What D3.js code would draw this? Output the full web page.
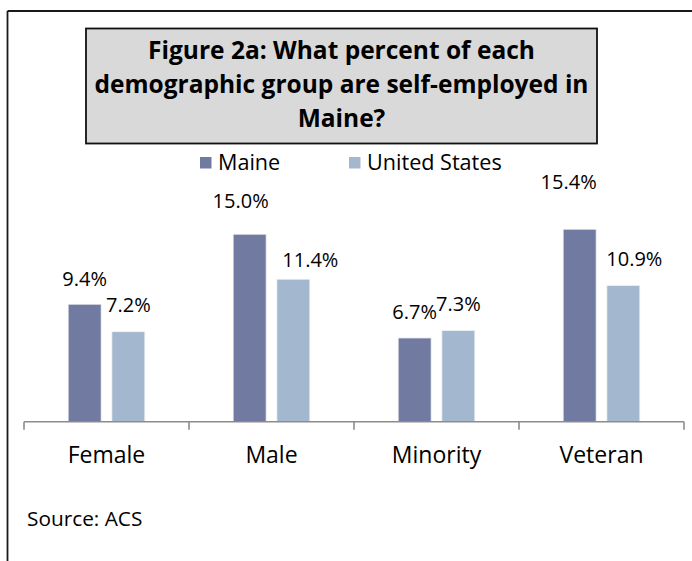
<!DOCTYPE html>
<html>
<head>
<meta charset="utf-8">
<script src="https://cdn.jsdelivr.net/npm/d3@7"></script>
<style>
  html, body { margin: 0; padding: 0; background: #fff; }
  svg { display: block; }
  text { font-family: "Open Sans", Lato, sans-serif; fill: #000; }
</style>
</head>
<body>
<svg id="chart" width="692" height="561"></svg>
<script>
// ---- data ----
const categories = ["Female", "Male", "Minority", "Veteran"];
const seriesNames = ["Maine", "United States"];
const maineValues = [9.4, 15.0, 6.7, 15.4];
const usValues = [7.2, 11.4, 7.3, 10.9];
const valueLabels = [["9.4%", "7.2%"], ["15.0%", "11.4%"], ["6.7%", "7.3%"], ["15.4%", "10.9%"]];
const titleLines = ["Figure 2a: What percent of each", "demographic group are self-employed in", "Maine?"];
const sourceText = "Source: ACS";

// label nudges (manual placements in the original), [dx, dy] per category/series
const labelNudge = [[[0, 1], [0, -1]], [[-9, -7], [17, 7]], [[0, 0], [0, 0]], [[-11, -21], [11, 0]]];

const colors = ["#717ba1", "#a3b8ce"];

const svg = d3.select("#chart");

// outer frame (top and left lines only)
svg.append("line").attr("x1", 7.5).attr("y1", 11).attr("x2", 692).attr("y2", 11)
  .attr("stroke", "#1a1a1a").attr("stroke-width", 1.8);
svg.append("line").attr("x1", 7.5).attr("y1", 11).attr("x2", 7.5).attr("y2", 561)
  .attr("stroke", "#1a1a1a").attr("stroke-width", 1.8);

// title box
svg.append("rect").attr("x", 86).attr("y", 28.5).attr("width", 511).attr("height", 115)
  .attr("fill", "#d9d9d9").attr("stroke", "#111").attr("stroke-width", 1.8);
svg.append("g").selectAll("text").data(titleLines).join("text")
  .attr("x", 341.5)
  .attr("y", (d, i) => 59 + i * 34)
  .attr("text-anchor", "middle")
  .attr("font-weight", "bold")
  .attr("font-size", 24.5)
  .text(d => d);

// scales
const x0 = d3.scaleBand().domain(categories).range([24, 684]).padding(0);
const x1 = d3.scaleBand().domain(seriesNames).range([0, x0.bandwidth()])
  .paddingInner(0.245).paddingOuter(1.01);
const y = d3.scaleLinear().domain([0, 18]).range([421.7, 421.7 - 18 * 12.5]);

const rows = categories.map((c, i) => ({
  cat: c,
  vals: [maineValues[i], usValues[i]].map((v, j) => ({ s: seriesNames[j], v, j, i }))
}));

// bars
const g = svg.append("g");
const groups = g.selectAll("g.grp").data(rows).join("g")
  .attr("transform", d => `translate(${x0(d.cat)},0)`);
groups.selectAll("rect").data(d => d.vals).join("rect")
  .attr("x", d => x1(d.s))
  .attr("y", d => y(d.v))
  .attr("width", x1.bandwidth())
  .attr("height", d => y(0) - y(d.v))
  .attr("fill", d => colors[d.j])
  .attr("stroke", "#f2f2f2")
  .attr("stroke-width", 0.8);

groups.selectAll("text").data(d => d.vals).join("text")
  .attr("x", d => x1(d.s) + x1.bandwidth() / 2 + labelNudge[d.i][d.j][0])
  .attr("y", d => y(d.v) - 19 + labelNudge[d.i][d.j][1])
  .attr("text-anchor", "middle")
  .attr("font-size", 20)
  .text(d => valueLabels[d.i][d.j]);

// x axis
const axis = d3.axisBottom(x0).tickSize(0).tickPadding(0);
const axG = svg.append("g").attr("transform", `translate(0,${y(0)})`).call(axis);
axG.select(".domain").attr("stroke", "#8c8c8c").attr("stroke-width", 1.6).attr("d", "M24,0H684");
axG.selectAll(".tick text").remove();
// category boundary ticks
const bounds = categories.map(c => x0(c)).concat([x0.range()[1]]);
axG.selectAll("line.bt").data(bounds).join("line").attr("class", "bt")
  .attr("x1", d => d).attr("x2", d => d).attr("y1", 0).attr("y2", 8)
  .attr("stroke", "#8c8c8c").attr("stroke-width", 1.6);
axG.selectAll("text.cat").data(categories).join("text").attr("class", "cat")
  .attr("x", d => x0(d) + x0.bandwidth() / 2)
  .attr("y", 41.5)
  .attr("text-anchor", "middle")
  .attr("font-size", 23)
  .attr("fill", "#000")
  .attr("font-family", "'Open Sans', sans-serif")
  .text(d => d);

// legend
const legendX = [200, 349];
const lg = svg.append("g").selectAll("g").data(seriesNames).join("g")
  .attr("transform", (d, i) => `translate(${legendX[i]},157)`);
lg.append("rect").attr("width", 11.5).attr("height", 11.5).attr("fill", (d, i) => colors[i]);
lg.append("text").attr("x", 18).attr("y", 12.5).attr("font-size", 21.6).text(d => d);

// source
svg.append("text").attr("x", 27).attr("y", 525.5).attr("font-size", 20.8).text(sourceText);
</script>
</body>
</html>
